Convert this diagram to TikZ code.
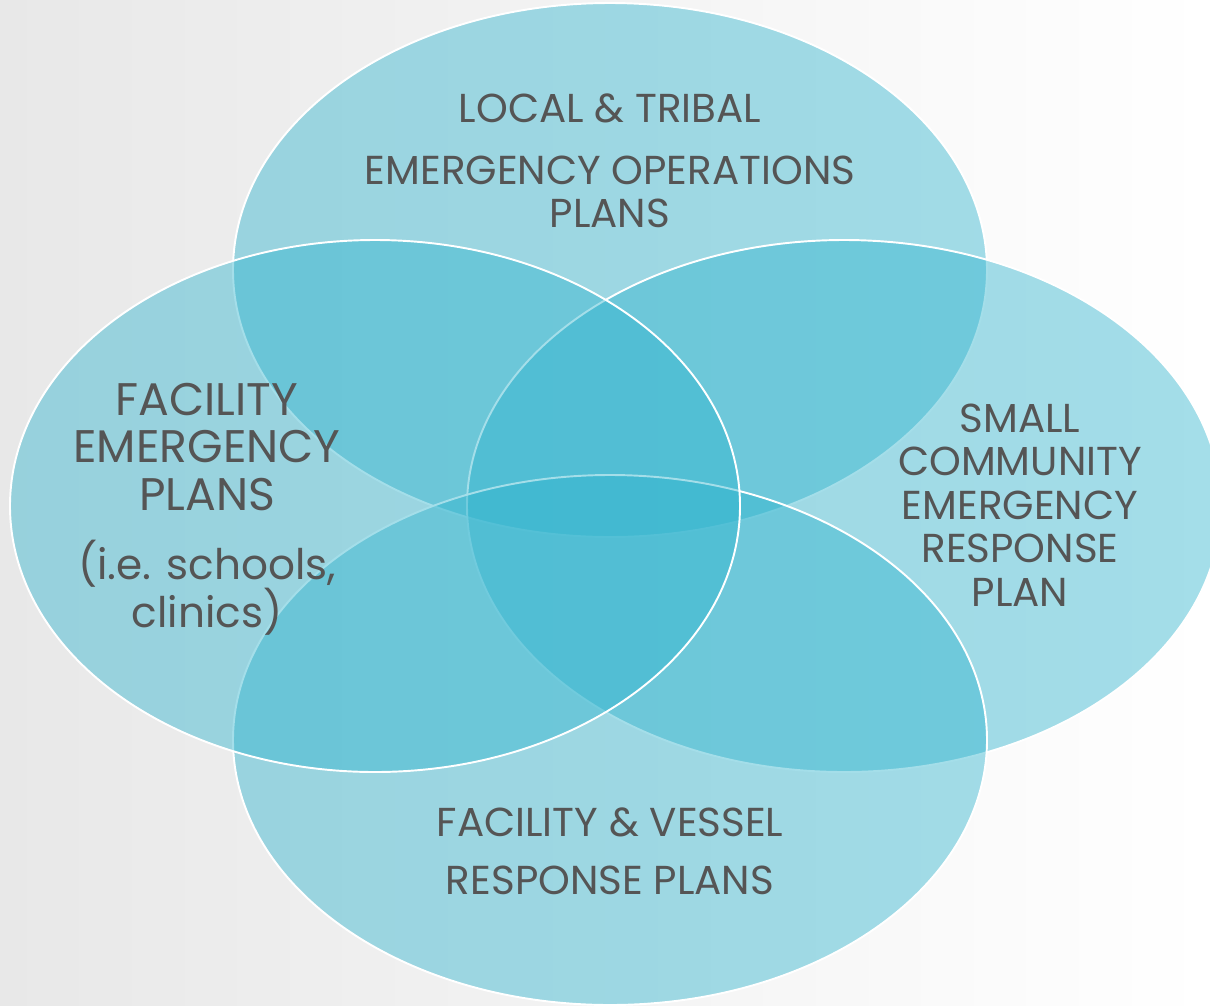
\documentclass[tikz,border=0pt]{standalone}
\usepackage{fontspec}
\setmainfont{Poppins}
\definecolor{vennblue}{RGB}{48,180,206}
\definecolor{labelgray}{RGB}{85,85,85}
\definecolor{bggray}{RGB}{232,232,232}
\tikzset{venn/.style={fill=vennblue,fill opacity=0.44,draw=white,line width=1.1pt},
  lbl/.style={text=labelgray,align=center,font=\fontsize{23}{24.7}\selectfont},
  biglbl/.style={lbl,font=\fontsize{26}{27.2}\selectfont}}

\begin{document}
\begin{tikzpicture}[x=0.02cm,y=-0.02cm]
      \shade[left color=bggray,right color=white] (0,0) rectangle (1210,1005);
      \useasboundingbox (0,0) rectangle (1210,1005);
      \path[venn] (610,270) ellipse [x radius=377,y radius=267];
      \path[venn] (844,506) ellipse [x radius=377,y radius=266];
      \path[venn] (610,740) ellipse [x radius=377,y radius=265];
      \path[venn] (375,506) ellipse [x radius=365,y radius=266];
      \node [lbl] (local) at (610,108) {LOCAL \& TRIBAL};
      \node [lbl] (eop) at (610,192) {EMERGENCY OPERATIONS\\PLANS};
      \node [biglbl] (facility) at (207,447) {FACILITY\\EMERGENCY\\PLANS};
      \node [biglbl,font=\fontsize{24}{27.2}\selectfont] (schools) at (207,588) {(i.e. schools,\\clinics)};
      \node [lbl] (small) at (1020,505) {SMALL\\COMMUNITY\\EMERGENCY\\RESPONSE\\PLAN};
      \node [lbl] (vessel) at (610,822) {FACILITY \& VESSEL};
      \node [lbl] (response) at (610,880) {RESPONSE PLANS};
\end{tikzpicture}
\end{document}
